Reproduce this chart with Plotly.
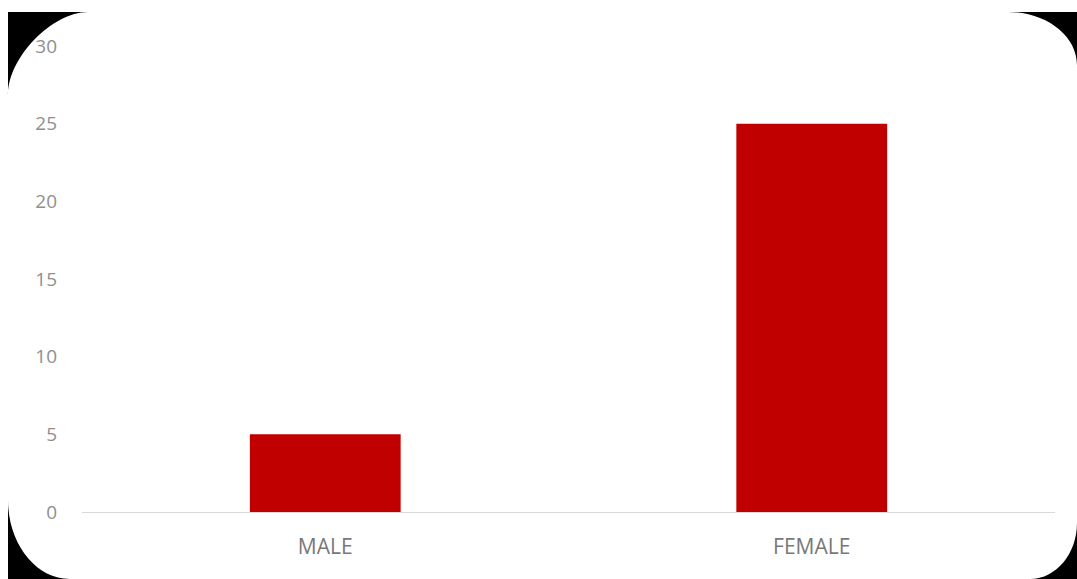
import plotly.graph_objects as go

categories = ["MALE", "FEMALE"]
counts = [5, 25]
y_ticks = [0, 5, 10, 15, 20, 25, 30]

W, H = 1077, 579
L, R, T, B = 82, 22, 46, 67
PW, PH = W - L - R, H - T - B

def px(x):
    return (x - L) / PW

def py(y):
    return (H - B - y) / PH

def P(x, y):
    return f"{px(x):.5f},{py(y):.5f}"

k = 0.5523
def corner_paths():
    paths = []
    kt = 0.45
    # top-left
    paths.append(f"M {P(8,12)} L {P(88,12)} C {P(88-kt*80,12)} {P(8,95-kt*83)} {P(8,95)} Z")
    # top-right
    paths.append(f"M {P(1008,12)} L {P(1077,12)} L {P(1077,65)} C {P(1077,65-k*53)} {P(1008+k*69,12)} {P(1008,12)} Z")
    # bottom-left
    paths.append(f"M {P(8,500)} C {P(8,500+k*79)} {P(70-k*62,579)} {P(70,579)} L {P(8,579)} Z")
    # bottom-right
    paths.append(f"M {P(1077,523)} L {P(1077,579)} L {P(1030,579)} C {P(1030+k*47,579)} {P(1077,523+k*56)} {P(1077,523)} Z")
    return paths

fig = go.Figure(go.Bar(x=categories, y=counts, marker=dict(color="#C00000", line=dict(width=0)),
                       width=0.31))

shapes = [dict(type="path", path=p, xref="paper", yref="paper", fillcolor="black",
               line=dict(width=0), layer="above") for p in corner_paths()]

fig.update_layout(
    width=W, height=H,
    margin=dict(l=L, r=R, t=T, b=B),
    paper_bgcolor="white", plot_bgcolor="white",
    showlegend=False,
    font=dict(family="Open Sans", color="#8a8a8a"),
    xaxis=dict(showgrid=False, showline=True, linecolor="#d9d9d9", linewidth=1,
               ticks="", tickfont=dict(size=21, color="#787878"), ticklabelstandoff=16),
    yaxis=dict(range=[0, 30], tickvals=y_ticks, showgrid=False, zeroline=False,
               showline=False, ticks="", tickfont=dict(size=19, color="#8f8f8f"),
               ticklabelstandoff=24),
    shapes=shapes,
)

fig.write_html("out.html")
